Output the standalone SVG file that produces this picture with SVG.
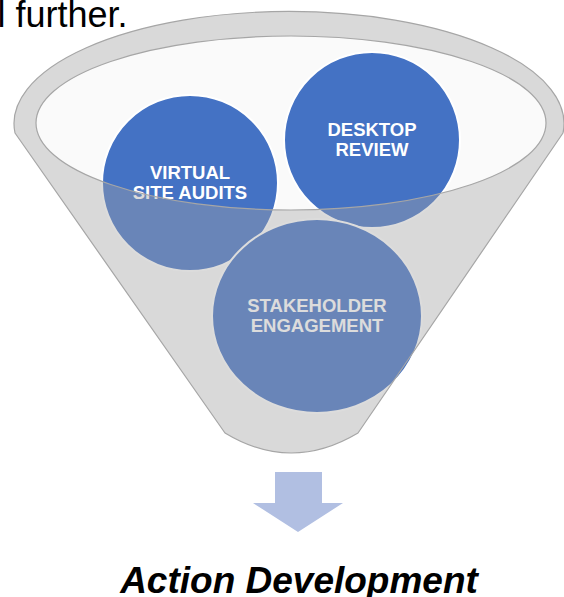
<svg xmlns="http://www.w3.org/2000/svg" width="564" height="597" viewBox="0 0 564 597">
  <style>
    .lbl { font-family: "Liberation Sans", Arial, sans-serif; font-weight: bold; font-size: 18.5px; text-anchor: middle; fill: #ffffff; }
    .blob { fill: #4472c4; stroke: #ffffff; stroke-width: 2; }
    .edge { fill: none; stroke: #a6a6a6; stroke-width: 1.2; stroke-linejoin: round; }
  </style>
  <rect width="564" height="597" fill="#ffffff"/>
  <text x="-2.5" y="27" font-family="Liberation Sans, Arial, sans-serif" font-size="36" fill="#000000">l further.</text>

  <g id="funnel-back">
    <path d="M15,133 A275,112 0 1 1 563,133 L358,433 Q291,473 225,433 Z" fill="#fafafa"/>
  </g>

  <g id="node-desktop">
    <circle class="blob" cx="372" cy="140" r="88"/>
    <text class="lbl" x="372" y="136">DESKTOP</text>
    <text class="lbl" x="372" y="156">REVIEW</text>
  </g>
  <g id="node-virtual">
    <circle class="blob" cx="190" cy="183" r="88"/>
    <text class="lbl" x="190" y="179">VIRTUAL</text>
    <text class="lbl" x="190" y="199">SITE AUDITS</text>
  </g>
  <g id="node-stakeholder">
    <ellipse class="blob" cx="317" cy="316" rx="105" ry="97"/>
    <text class="lbl" x="317" y="312">STAKEHOLDER</text>
    <text class="lbl" x="317" y="332">ENGAGEMENT</text>
  </g>

  <g id="funnel-front">
    <path d="M15,133 A275,112 0 1 1 563,133 L358,433 Q291,473 225,433 Z M36,123 A255,87 0 1 0 546,123 A255,87 0 1 0 36,123 Z" fill="#a5a5a5" fill-opacity="0.39" fill-rule="evenodd"/>
    <path class="edge" d="M15,133 A275,112 0 1 1 563,133 L358,433 Q291,473 225,433 Z"/>
    <ellipse class="edge" cx="291" cy="123" rx="255" ry="87"/>
  </g>

  <g id="connectors">
    <path d="M275,472 L322,472 L322,503 L343,503 L298,532 L253,503 L275,503 Z" fill="#b1bfe2"/>
  </g>

  <g id="result">
    <text x="299" y="593" font-family="Liberation Sans, Arial, sans-serif" font-weight="bold" font-style="italic" font-size="37" text-anchor="middle" fill="#000000">Action Development</text>
  </g>
</svg>
